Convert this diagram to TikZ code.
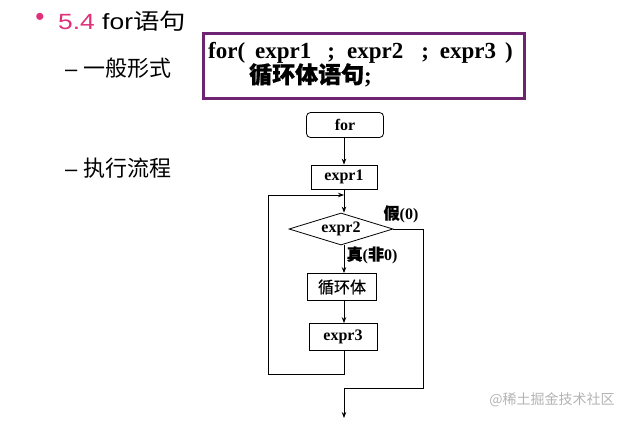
\documentclass[tikz,border=0pt]{standalone}
\usepackage{fontspec}
\usetikzlibrary{shapes.geometric,arrows.meta}
\setmainfont{Liberation Serif}
\newfontfamily\sansf{Liberation Sans}
\newfontfamily\cjk{Noto Sans CJK SC}
\newfontfamily\cjkb[FakeBold=0.8]{Noto Sans CJK SC}
\definecolor{magc}{HTML}{E0307A}
\definecolor{boxc}{HTML}{6E2470}
\definecolor{wm}{HTML}{B4B4B4}
\tikzset{
  flow/.style={draw, line width=0.8pt, inner sep=0pt, font=\bfseries\fontsize{16}{18}\selectfont},
  conn/.style={line width=0.8pt},
  arr/.style={conn, -{Stealth[length=6pt,width=4.5pt]}},
  lbl/.style={inner sep=0pt, font=\bfseries\fontsize{16}{18}\selectfont},
  head/.style={inner sep=0pt, anchor=base west, font=\sansf\fontsize{22}{26}\selectfont}
}
\begin{document}
\begin{tikzpicture}[x=1pt,y=-1pt]
\useasboundingbox (0,0) rectangle (630,421);
\fill[white] (0,0) rectangle (630,421);
% headings
\node[inner sep=0pt, text=magc, font=\sansf\fontsize{26}{28}\selectfont] (bul) at (40,19) {•};
\node[head] (title) at (58,29) {\scalebox{1.2}[1]{\textcolor{magc}{5.4} for{\cjk 语句}}};
\node[head] (gen) at (65,76) {– {\cjk 一般形式}};
\node[head] (exe) at (65,176) {– {\cjk 执行流程}};
% syntax box
\node[draw=boxc, line width=2.6pt, minimum width=321pt, minimum height=65pt, anchor=north west] (box) at (202,32) {};
\node[inner sep=0pt, anchor=base west, font=\bfseries\fontsize{23}{26}\selectfont] (l1) at (208,58)
  {for(\hspace{10pt}expr1\hspace{16pt};\hspace{12pt}expr2\hspace{18pt};\hspace{11pt}expr3\hspace{9pt})};
\node[inner sep=0pt, anchor=base west, font=\bfseries\fontsize{23}{26}\selectfont] (l2) at (249,83)
  {{\cjkb 循环体语句};};
% flowchart
\node[flow, rounded corners=4pt, minimum width=77pt, minimum height=25pt] (forn) at (345,125) {for};
\node[flow, minimum width=66pt, minimum height=24pt] (e1) at (344,177) {expr1};
\node[flow, diamond, aspect=3.2, minimum width=104pt, minimum height=32pt] (d) at (341,229) {expr2};
\node[flow, minimum width=69pt, minimum height=27pt] (body) at (342,287) {\cjkb\mdseries 循环体};
\node[flow, minimum width=68pt, minimum height=27pt] (e3) at (343,337) {expr3};
\node[lbl] (f) at (401,214) {{\cjkb 假}(0)};
\node[lbl] (t) at (372,255) {{\cjkb 真}({\cjkb 非}0)};
\coordinate (lb) at (268,374);
\coordinate (lt) at (268,195);
\coordinate (fr) at (423,229);
\coordinate (fb) at (423,388);
\coordinate (ex) at (344,418);
\draw[arr] (forn.south -| e1) -- (e1);
\draw[arr] (e1) -- (e1 |- d.north);
\draw[arr] (d.south -| e1) -- (e1 |- body.north);
\draw[arr] (body.south -| e1) -- (e1 |- e3.north);
\draw[arr] (e3.south -| e1) -- (e1 |- lb) -- (lb) -- (lt) -- (lt -| e1);
\draw[arr] (d.east) -- (fr) -- (fb) -- (fb -| ex) -- (ex);
% watermark
\node[inner sep=0pt, text=wm, font=\cjk\fontsize{14}{16}\selectfont] (wmk) at (552,400) {@稀土掘金技术社区};
\end{tikzpicture}
\end{document}
